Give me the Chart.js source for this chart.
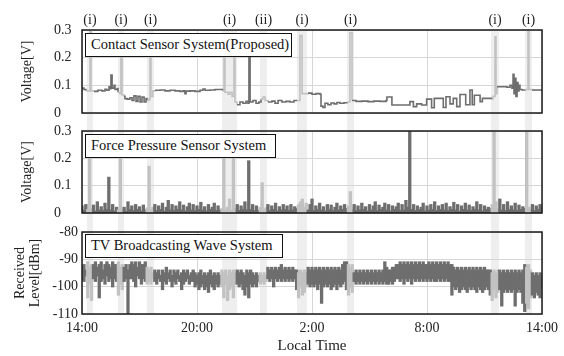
<!DOCTYPE html>
<html><head><meta charset="utf-8">
<script src="https://cdn.jsdelivr.net/npm/chart.js@4.4.0/dist/chart.umd.min.js"></script>
<style>
html,body{margin:0;padding:0;background:#fff;}
#wrap{position:relative;width:564px;height:356px;overflow:hidden;background:#fff;}
.layer{position:absolute;left:0;top:0;width:564px;height:356px;}
.tag{position:absolute;border:1.5px solid #111;background:#fff;font-family:'Liberation Serif','Times New Roman',serif;font-size:14.5px;color:#111;line-height:21px;padding:0 0 0 5px;box-sizing:border-box;white-space:nowrap;}
</style></head>
<body><div id="wrap">
<div class="layer"><canvas id="c1"></canvas></div>
<div class="layer"><canvas id="c2"></canvas></div>
<div class="layer"><canvas id="c3"></canvas></div>
</div>
<script>
const bandStart = [0.26,1.88,3.39,7.30,9.29,11.22,13.83,21.34,23.11];
const bandEnd   = [0.57,2.19,3.76,8.09,9.65,11.74,14.19,21.76,23.48];
const bandLabels = ['(i)','(i)','(i)','(i)','(ii)','(i)','(i)','(i)','(i)'];
const timeTicks = ['14:00','20:00','2:00','8:00','14:00'];
const voltTicks = ['0','0.1','0.2','0.3'];
const dbmTicks = ['-110','-100','-90','-80'];
const panelTitles = ['Contact Sensor System(Proposed)','Force Pressure Sensor System','TV Broadcasting Wave System'];

const contactHours = [0.00,0.10,0.21,0.31,0.42,0.47,0.63,0.83,1.04,1.20,1.30,1.41,1.46,1.51,1.57,1.67,1.72,1.83,1.88,1.98,
2.03,2.09,2.19,2.24,2.35,2.50,2.61,2.71,2.82,2.92,3.03,3.13,3.24,3.34,3.39,3.50,3.55,3.60,3.70,3.81,
4.07,4.33,4.59,4.85,5.11,5.27,5.37,5.43,5.63,5.90,6.16,6.31,6.42,6.68,6.94,7.20,7.36,7.41,7.46,7.62,
7.72,7.83,7.93,7.98,8.09,8.24,8.40,8.56,8.66,8.71,8.77,8.92,9.08,9.23,9.34,9.44,9.55,9.70,9.91,10.07,
10.23,10.43,10.64,10.85,11.06,11.22,11.37,11.48,11.64,11.79,12.00,12.21,12.42,12.47,12.57,12.68,12.83,12.99,13.15,13.30,
13.46,13.67,13.83,13.98,14.09,14.30,14.61,14.92,15.23,15.55,15.86,15.91,16.17,17.11,17.29,17.46,17.72,17.98,18.24,18.38,
18.85,18.99,19.20,19.37,19.55,19.72,20.02,20.24,20.36,20.47,20.77,20.89,21.38,21.44,21.55,21.60,21.65,21.91,22.17,22.33,
22.43,22.49,22.54,22.59,22.64,22.70,22.75,22.80,22.85,22.96,23.11,23.27,23.32,23.48,24.00];
const contactVolts = [.09,.085,.08,.08,.30,.08,.078,.082,.08,.086,.082,.095,.088,.137,.09,.10,.085,.088,.075,.07,
.21,.065,.06,.052,.05,.055,.045,.062,.042,.06,.04,.058,.04,.052,.045,.05,.22,.06,.08,.082,
.083,.08,.082,.08,.078,.08,.07,.079,.08,.078,.082,.087,.082,.083,.085,.085,.08,.20,.075,.068,
.075,.06,.20,.04,.03,.04,.035,.042,.035,.20,.04,.045,.035,.04,.05,.058,.045,.04,.043,.035,
.045,.04,.042,.04,.045,.045,.28,.07,.07,.072,.068,.07,.068,.025,.02,.035,.03,.036,.033,.038,
.035,.037,.04,.29,.045,.042,.043,.041,.043,.042,.045,.058,.029,.041,.023,.033,.029,.05,.019,.053,
.02,.059,.033,.053,.023,.067,.03,.083,.03,.064,.041,.053,.05,.06,.275,.07,.095,.095,.093,.10,
.09,.14,.07,.125,.06,.11,.08,.10,.085,.083,.085,.30,.085,.083,.083];

const sampleStepHours = 0.1;
const forceVolts = [
.025,.01,.03,.012,.22,.015,.028,.006,.04,.01,
.022,.008,.035,.012,.13,.01,.03,.006,.02,.01,
.21,.012,.02,.005,.04,.012,.025,.008,.03,.012,
.022,.006,.028,.01,.018,.17,.01,.02,.03,.008,
.025,.012,.035,.006,.02,.045,.01,.03,.008,.025,
.012,.04,.01,.028,.006,.022,.035,.01,.03,.008,
.025,.012,.038,.01,.022,.006,.03,.012,.02,.035,
.008,.025,.01,.015,.21,.012,.02,.05,.01,.21,
.015,.03,.008,.025,.012,.04,.01,.19,.012,.03,
.008,.025,.01,.02,.11,.012,.018,.03,.008,.025,
.012,.035,.006,.022,.01,.03,.012,.025,.008,.03,
.01,.022,.015,.03,.04,.05,.02,.035,.01,.03,
.05,.008,.025,.012,.035,.01,.022,.006,.03,.012,
.028,.008,.02,.035,.01,.025,.012,.03,.015,.025,
.077,.012,.03,.008,.025,.01,.035,.012,.022,.006,
.03,.01,.025,.04,.008,.028,.012,.02,.035,.01,
.03,.006,.025,.012,.022,.035,.008,.03,.01,.045,
.02,.3,.012,.03,.008,.025,.012,.02,.035,.006,
.025,.01,.03,.012,.04,.008,.025,.012,.03,.01,
.035,.008,.022,.012,.038,.01,.03,.006,.025,.012,
.035,.01,.028,.008,.022,.012,.04,.01,.03,.006,
.025,.012,.02,.015,.03,.3,.04,.015,.05,.01,
.03,.008,.04,.012,.025,.01,.035,.008,.028,.012,
.022,.015,.3,.02,.012,.03,.008,.025,.012,.03,
.02];

const tvHigh = [
-93,-92,-94,
-91,-93,-92,
-92,-91,-93,-92,-91,-94,-92,-91,-92,-93,-91,-92,-92,
-91,-93,-92,
-93,-92,
-94,
-92,
-91,-92,-91,-93,-91,-92,-92,-91,
-93,-94,-93,-95,
-94,-95,-94,-96,-94,-95,-93,-95,-94,-96,-94,-95,-94,-96,-95,-94,-95,-94,-96,-95,-94,
-95,-96,-95,-94,-96,-95,-96,-95,-94,-96,-95,-96,-95,-96,
-94,-95,-94,-96,-94,-95,-94,-95,
-94,-95,-94,-95,-96,-94,-95,-94,-95,-96,-95,-96,
-95,-96,-95,-96,
-93,-94,-93,-94,-93,-94,-93,-92,-94,-93,-94,-93,-94,-93,-94,
-94,-95,-94,-95,-94,-95,
-93,-94,-93,-94,-93,-94,-93,-94,-93,-94,-93,-94,-93,-94,-93,-94,-93,-94,-92,-91,
-91,-92,-93,-92,
-95,-94,-95,-94,-95,-94,-95,-94,-95,-94,-95,-94,-95,-94,-95,-94,-91,-93,
-94,-94,-93,-93,-92,
-92,-91,-92,-91,-92,-91,-92,-91,-92,-91,-92,-91,-92,-91,-92,
-92,-91,-92,-91,-92,-91,-92,-91,-92,-91,-92,-91,-92,-92,
-93,-94,-93,-94,-93,-94,-93,-94,-93,-94,-93,-94,-93,-94,-93,-94,-93,-94,-94,
-94,-95,-94,-95,-94,
-94,-95,-94,-95,-94,-95,-94,-95,-94,-95,-94,-95,-94,
-92,-93,-92,-94,
-95,-96,-95,-96,-95,-96];
const tvLow = [
-97,-98,-96,
-104,-99,-105,
-97,-98,-96,-104,-98,-97,-99,-96,-98,-97,-100,-97,-98,
-103,-99,-101,
-98,-97,
-110,
-97,
-97,-98,-100,-96,-97,-99,-97,-98,
-99,-98,-99,-97,
-98,-99,-97,-98,-101,-98,-99,-97,-98,-100,-98,-99,-97,-98,-101,-99,-98,-97,-99,-98,-98,
-100,-99,-101,-100,-99,-101,-100,-102,-99,-100,-101,-99,-100,-99,
-100,-104,-99,-105,-101,-100,-104,-99,
-99,-100,-99,-101,-103,-100,-104,-99,-100,-99,-100,-98,
-99,-98,-99,-98,
-97,-98,-97,-100,-97,-98,-97,-98,-97,-98,-97,-98,-97,-98,-97,
-101,-104,-100,-103,-102,-100,
-99,-100,-99,-100,-99,-101,-99,-106,-100,-99,-100,-99,-101,-100,-99,-101,-99,-100,-99,-98,
-101,-103,-100,-102,
-98,-99,-98,-99,-98,-99,-98,-99,-98,-99,-98,-99,-98,-99,-98,-99,-98,-99,
-99,-98,-99,-98,-97,
-97,-98,-97,-99,-97,-98,-97,-99,-97,-98,-97,-98,-97,-98,-97,
-98,-97,-98,-97,-98,-98,-97,-98,-97,-98,-97,-98,-98,-103,
-100,-101,-100,-102,-101,-100,-101,-102,-100,-101,-100,-101,-102,-100,-101,-102,-101,-100,-101,
-103,-105,-101,-104,-102,
-101,-107,-102,-101,-102,-101,-102,-101,-107,-102,-101,-102,-106,
-109,-106,-108,-104,
-103,-104,-102,-103,-104,-100];

const DARK = '#6e6e6e', LIGHT = '#c2c2c2', BAND = '#eeeeee', GRID = '#d6d6d6';
const FONT = "'Liberation Serif','Times New Roman',serif";
Chart.defaults.font.family = FONT;
Chart.defaults.color = '#222';

function inBandAt(m) {
  for (let k = 0; k < bandStart.length; k++) if (m >= bandStart[k] && m <= bandEnd[k]) return true;
  return false;
}
const segColor = c => inBandAt((c.p0.parsed.x + c.p1.parsed.x) / 2) ? LIGHT : DARK;
const barColor = c => (c.raw && inBandAt(c.raw.x)) ? LIGHT : DARK;

const bandPlugin = {
  id: 'bands',
  beforeDraw(chart, args, opts) {
    const {ctx, chartArea: a, scales: {x}} = chart;
    ctx.save();
    ctx.fillStyle = BAND;
    for (let k = 0; k < bandStart.length; k++) {
      const x0 = x.getPixelForValue(bandStart[k]), x1 = x.getPixelForValue(bandEnd[k]);
      ctx.fillRect(x0, a.top, x1 - x0, a.bottom - a.top + (opts.extend || 0));
    }
    ctx.restore();
  },
  afterDraw(chart, args, opts) {
    const {ctx, chartArea: a, scales: {x}} = chart;
    ctx.save();
    ctx.strokeStyle = '#1a1a1a'; ctx.lineWidth = 1.5;
    ctx.strokeRect(a.left, a.top, a.right - a.left, a.bottom - a.top);
    if (opts.labels) {
      ctx.fillStyle = '#222'; ctx.font = '14px ' + FONT;
      ctx.textAlign = 'center'; ctx.textBaseline = 'middle';
      for (let k = 0; k < bandStart.length; k++)
        ctx.fillText(bandLabels[k], x.getPixelForValue((bandStart[k] + bandEnd[k]) / 2), a.top - 10);
    }
    ctx.restore();
  }
};

function makeChart(id, cfg) {
  const xScale = {
    type: 'linear', min: 0, max: 24, offset: false,
    grid: {color: GRID, drawTicks: false, offset: false},
    border: {display: false},
    ticks: {stepSize: 6, display: !!cfg.xTicks, padding: 6, font: {size: 14}, maxRotation: 0,
      callback: (v, i) => timeTicks[i]},
    title: cfg.xTicks ? {display: true, text: 'Local Time', font: {size: 15}, padding: {top: 0, bottom: 1}} : {display: false},
    afterFit: s => { s.height = cfg.xTicks ? 42 : 0; }
  };
  const yScale = {
    min: cfg.ymin, max: cfg.ymax,
    grid: {color: GRID, drawTicks: false},
    border: {display: false},
    ticks: {stepSize: cfg.step, padding: cfg.tickPad, crossAlign: cfg.crossAlign, font: {size: 14},
      callback: (v, i) => cfg.tickLabels[i]},
    title: {display: true, text: cfg.ytitle, font: {size: 14, lineHeight: 1.08}, padding: {top: cfg.titlePad, bottom: 0}},
    afterFit: s => { s.width = cfg.yWidth; }
  };
  const ds = cfg.type === 'bar' ? {
      type: 'bar', data: cfg.data, borderWidth: 0,
      barPercentage: 1, categoryPercentage: 1, inflateAmount: 0.7,
      backgroundColor: barColor
    } : {
      type: 'line', data: cfg.data,
      borderWidth: cfg.lw, pointRadius: 0, tension: 0, stepped: true, fill: false,
      borderColor: DARK, segment: {borderColor: segColor}
    };
  return new Chart(document.getElementById(id), {
    type: cfg.type,
    data: {datasets: [ds]},
    options: {
      responsive: true, maintainAspectRatio: false, animation: false,
      events: [],
      layout: {padding: cfg.pad},
      scales: {x: xScale, y: yScale},
      plugins: {legend: {display: false}, tooltip: {enabled: false},
        bands: {extend: cfg.extend, labels: cfg.labels}}
    },
    plugins: [bandPlugin]
  });
}

makeChart('c1', {
  type: 'line',
  data: contactHours.map((h, i) => ({x: h, y: contactVolts[i]})),
  lw: 1.6,
  ymin: 0, ymax: 0.3, step: 0.1, tickLabels: voltTicks, ytitle: 'Voltage[V]',
  crossAlign: 'far', tickPad: 4, yWidth: 28, titlePad: -34.4,
  pad: {left: 54, right: 22, top: 30, bottom: 243}, extend: 18, labels: true
});
makeChart('c2', {
  type: 'bar',
  data: forceVolts.map((v, i) => ({x: i * sampleStepHours, y: v})),
  ymin: 0, ymax: 0.3, step: 0.1, tickLabels: voltTicks, ytitle: 'Voltage[V]',
  crossAlign: 'far', tickPad: 4, yWidth: 28, titlePad: -34.4,
  pad: {left: 54, right: 22, top: 131, bottom: 143}, extend: 19
});
makeChart('c3', {
  type: 'bar',
  data: tvHigh.map((v, i) => ({x: i * sampleStepHours, y: [tvLow[i], v]})),
  ymin: -110, ymax: -80, step: 10, tickLabels: dbmTicks, ytitle: ['Received', 'Level[dBm]'],
  crossAlign: 'near', tickPad: 4, yWidth: 82, titlePad: 12.4,
  pad: {left: 0, right: 22, top: 232, bottom: 0}, extend: 0, xTicks: true
});

const tagBoxes = [[85, 33, 207], [85, 134, 191], [85, 234, 198]];
const wrap = document.getElementById('wrap');
panelTitles.forEach((t, i) => {
  const d = document.createElement('div');
  d.className = 'tag';
  d.style.left = tagBoxes[i][0] + 'px'; d.style.top = tagBoxes[i][1] + 'px';
  d.style.width = tagBoxes[i][2] + 'px'; d.style.height = '24px';
  d.textContent = t;
  wrap.appendChild(d);
});
</script>
</body></html>
